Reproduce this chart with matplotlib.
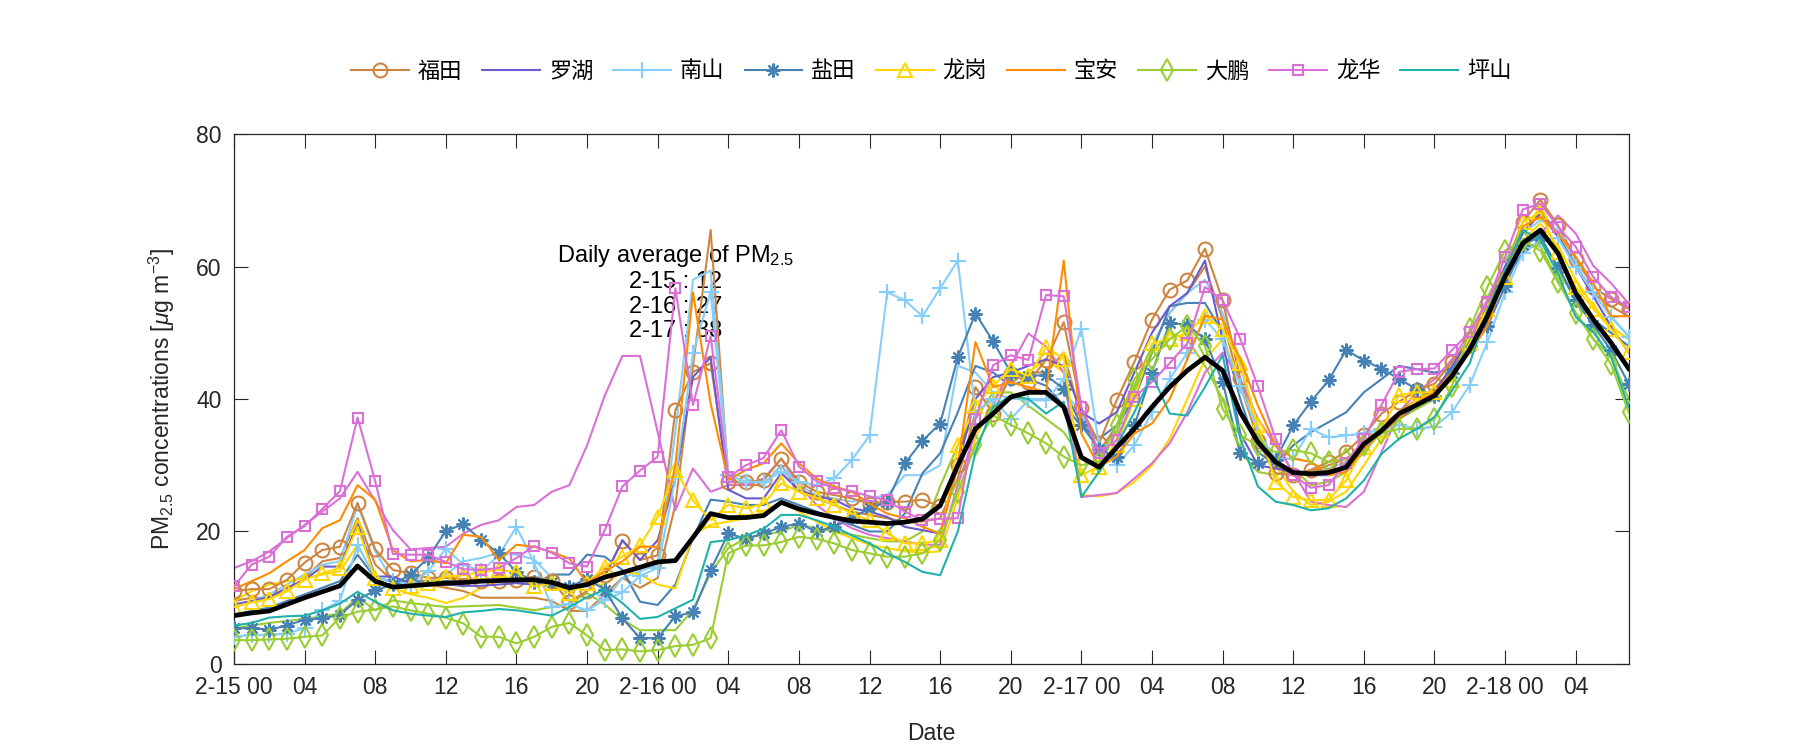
import numpy as np
import matplotlib
matplotlib.use("Agg")
import matplotlib.pyplot as plt

plt.rcParams['font.family'] = ['Liberation Sans', 'Noto Sans CJK SC', 'DejaVu Sans']
plt.rcParams['mathtext.fontset'] = 'custom'
plt.rcParams['mathtext.rm'] = 'Liberation Sans'
plt.rcParams['mathtext.it'] = 'Liberation Sans:italic'

hours = np.arange(80)   # 2-15 00 ... 2-18 07, hourly

# marked site of each district
futian = [11.0, 11.3, 11.3, 12.7, 15.3, 17.2, 17.7, 24.3, 17.3, 14.2, 13.7, 13.0, 13.0, 12.8, 12.5, 12.5, 12.7, 13.2, 12.5, 9.4, 11.0,
          13.4, 18.6, 15.7, 16.4, 38.3, 44.1, 45.4, 27.4, 27.5, 27.7, 31.0, 27.5, 26.0, 25.5, 25.0, 24.2, 24.5, 24.5, 24.8, 23.8,
          30.0, 41.8, 37.8, 43.7, 42.6, 45.9, 51.6, 38.6, 33.3, 39.8, 45.6, 52.0, 56.5, 57.9, 62.7, 54.9, 43.1, 33.6, 28.8, 28.5,
          29.3, 30.5, 32.0, 34.5, 37.8, 39.6, 41.3, 42.3, 45.6, 49.1, 54.3, 59.9, 66.7, 70.1, 66.2, 61.2, 56.9, 55.1, 53.6]
luohu = [9.0, 9.5, 10.1, 11.5, 12.7, 14.7, 14.7, 21.2, 13.2, 13.2, 12.2, 12.0, 12.0, 11.8, 11.8, 12.0, 12.2, 12.0, 11.8, 11.9, 11.7,
         13.2, 18.7, 15.7, 18.7, 28.0, 43.3, 46.3, 26.3, 25.0, 25.0, 28.8, 26.3, 25.3, 24.8, 23.5, 23.0, 22.2, 20.7, 20.2, 19.7,
         30.0, 40.0, 43.3, 44.0, 45.0, 46.0, 45.0, 38.0, 36.3, 38.0, 44.0, 50.0, 54.0, 56.0, 60.9, 48.9, 34.8, 30.0, 29.5, 29.0,
         28.5, 28.5, 29.5, 33.0, 35.0, 37.0, 39.0, 41.0, 45.0, 49.0, 53.0, 60.0, 65.0, 68.0, 64.5, 60.0, 55.5, 51.0, 47.0]
nanshan = [4.1, 4.4, 4.4, 4.6, 5.4, 8.1, 9.5, 18.0, 13.0, 12.5, 12.0, 14.0, 17.4, 15.0, 14.0, 16.4, 20.7, 15.3, 8.6, 9.0, 8.1,
           9.7, 10.8, 13.3, 14.5, 28.0, 46.9, 56.2, 28.5, 27.5, 27.5, 29.0, 27.5, 27.0, 28.0, 30.8, 34.5, 56.1, 54.9, 52.5, 56.7,
           60.9, 38.0, 40.0, 37.0, 39.8, 39.8, 43.0, 50.6, 33.0, 30.0, 33.0, 38.0, 43.0, 47.0, 52.0, 49.0, 42.0, 35.0, 31.0, 31.0,
           35.5, 34.2, 34.5, 34.8, 35.5, 36.1, 35.5, 35.8, 38.0, 42.1, 48.6, 56.1, 62.0, 64.0, 64.3, 59.9, 56.1, 52.4, 49.4]
yantian = [5.4, 5.4, 5.2, 5.8, 6.7, 6.9, 7.4, 9.7, 11.1, 12.0, 13.5, 16.0, 20.1, 21.1, 18.7, 16.7, 13.9, 12.4, 12.4, 11.6, 12.9,
           11.2, 6.9, 3.9, 3.9, 7.2, 7.8, 14.2, 19.7, 18.9, 19.7, 20.7, 21.2, 20.0, 20.7, 22.0, 23.5, 24.5, 30.3, 33.7, 36.3,
           46.3, 52.9, 48.7, 44.0, 43.5, 43.6, 41.5, 36.0, 32.5, 31.2, 36.0, 44.0, 51.5, 51.2, 49.0, 42.6, 31.8, 30.3, 30.8, 36.0,
           39.6, 42.8, 47.4, 45.8, 44.6, 43.0, 41.5, 40.5, 44.0, 48.0, 51.0, 57.0, 63.2, 64.6, 59.7, 54.9, 51.1, 47.4, 42.3]
longgang = [8.6, 9.3, 9.8, 11.0, 12.7, 13.7, 14.5, 20.7, 13.0, 11.4, 11.7, 12.2, 13.2, 13.4, 13.9, 14.2, 13.9, 11.7, 12.2, 10.7, 12.2,
            14.7, 16.2, 17.9, 22.2, 29.3, 24.7, 21.7, 24.0, 23.5, 24.2, 27.3, 26.0, 25.1, 24.0, 22.7, 21.7, 19.7, 18.2, 18.2, 18.7,
            33.0, 39.0, 42.0, 44.5, 43.5, 47.8, 46.1, 28.5, 29.8, 33.0, 40.0, 48.4, 49.1, 49.9, 52.6, 50.6, 45.4, 36.0, 27.5, 25.2,
            24.7, 24.8, 27.7, 32.8, 35.3, 40.6, 41.0, 41.0, 42.8, 48.4, 53.6, 58.4, 66.7, 68.2, 62.2, 56.9, 53.6, 50.6, 47.1]
baoan = [11.3, 12.5, 13.7, 15.5, 17.2, 20.5, 21.7, 27.0, 24.8, 17.2, 15.5, 15.7, 15.2, 19.5, 19.2, 15.7, 18.0, 17.7, 16.9, 15.9, 12.2,
         14.0, 15.5, 17.7, 17.7, 30.0, 56.1, 39.3, 27.8, 29.3, 30.3, 33.3, 30.3, 28.0, 26.8, 26.0, 24.2, 22.7, 22.0, 20.7, 19.7,
         30.0, 48.6, 41.8, 42.5, 41.8, 41.0, 60.9, 34.8, 29.8, 31.3, 34.8, 36.3, 40.0, 46.0, 52.6, 52.0, 46.0, 39.0, 33.0, 31.0,
         30.5, 28.5, 29.0, 32.5, 35.0, 37.0, 39.5, 41.0, 44.0, 47.0, 51.0, 59.0, 66.0, 67.5, 65.0, 61.5, 57.5, 52.5, 52.5]
dapeng = [3.6, 3.6, 3.7, 3.8, 4.1, 4.3, 7.0, 7.9, 8.2, 8.7, 8.1, 7.6, 7.0, 6.1, 4.1, 4.1, 3.1, 4.1, 5.6, 6.2, 4.3,
          2.1, 2.2, 1.9, 2.1, 2.7, 2.9, 3.9, 16.7, 17.9, 17.9, 18.4, 19.2, 18.9, 18.2, 17.2, 16.7, 16.2, 16.2, 16.7, 18.7,
          26.0, 33.0, 37.5, 36.1, 34.8, 33.3, 31.3, 30.0, 30.5, 36.0, 43.0, 46.0, 49.0, 51.0, 48.0, 38.5, 34.5, 33.0, 32.0, 32.3,
          31.8, 30.5, 31.0, 33.0, 34.8, 35.5, 35.5, 37.0, 42.0, 50.6, 56.9, 62.4, 64.0, 62.4, 57.6, 53.0, 49.1, 45.3, 38.0]
longhua = [11.7, 15.0, 16.2, 19.2, 20.8, 23.4, 26.1, 37.2, 27.6, 16.6, 16.5, 16.5, 15.4, 14.3, 14.2, 14.5, 16.0, 17.8, 16.8, 15.2, 14.7,
           20.2, 26.8, 29.2, 31.3, 56.7, 39.1, 49.5, 28.2, 30.0, 31.1, 35.3, 29.8, 27.6, 26.5, 26.1, 25.3, 24.7, 23.0, 21.7, 21.9,
           22.0, 37.0, 45.1, 46.6, 45.9, 55.7, 55.5, 38.8, 31.8, 33.8, 40.3, 42.6, 45.4, 48.4, 56.9, 54.9, 49.1, 41.9, 34.0, 28.5,
           26.6, 27.0, 30.4, 34.0, 39.1, 44.1, 44.5, 44.6, 47.4, 50.1, 54.7, 61.4, 68.6, 69.5, 66.0, 63.0, 58.4, 55.4, 53.9]
pingshan = [5.8, 6.2, 7.0, 7.2, 7.3, 8.1, 9.1, 10.9, 9.4, 8.1, 7.6, 7.3, 7.1, 7.8, 8.0, 8.3, 8.1, 7.7, 7.3, 8.6, 10.1,
            11.2, 9.2, 6.8, 7.1, 8.4, 9.7, 18.4, 18.7, 19.4, 20.4, 22.5, 22.5, 21.7, 20.7, 19.4, 18.2, 16.7, 15.4, 13.9, 13.4,
            20.0, 32.0, 38.8, 40.5, 40.0, 37.8, 39.6, 25.2, 29.0, 33.0, 38.0, 43.7, 37.8, 37.5, 41.8, 46.6, 34.0, 26.8, 24.5, 24.0,
            23.2, 23.5, 25.0, 27.7, 31.7, 34.0, 35.5, 37.3, 41.3, 45.4, 53.4, 59.4, 65.5, 64.0, 58.9, 52.4, 50.1, 46.4, 38.8]

# second sites (drawn without markers)
futian_2 = [9.5, 10.0, 10.0, 11.0, 13.0, 15.5, 16.0, 22.0, 15.0, 12.5, 12.0, 12.0, 11.5, 11.0, 10.0, 10.0, 10.0, 10.0, 9.5, 8.0, 8.0,
            10.5, 13.0, 11.5, 13.0, 24.0, 45.0, 65.5, 28.0, 27.0, 27.0, 30.0, 26.0, 25.0, 24.0, 23.0, 22.5, 22.0, 21.5, 21.5, 22.0,
            28.0, 38.0, 40.0, 43.0, 44.0, 44.0, 47.0, 37.0, 32.0, 36.0, 42.0, 48.0, 53.0, 56.0, 60.0, 52.0, 42.0, 34.0, 30.0, 29.0,
            29.0, 30.0, 31.0, 33.0, 36.0, 38.0, 40.0, 41.5, 44.5, 48.0, 53.0, 59.0, 65.0, 68.5, 65.0, 60.0, 56.0, 54.0, 52.5]
nanshan_2 = [8.5, 9.5, 10.5, 12.0, 13.5, 15.0, 15.5, 24.0, 17.0, 12.5, 12.3, 12.5, 13.5, 15.5, 16.0, 16.8, 16.5, 15.8, 13.0, 11.0, 12.0,
             9.5, 13.0, 14.0, 15.0, 35.0, 58.0, 59.4, 29.0, 28.0, 27.0, 30.0, 27.0, 25.5, 25.0, 24.5, 25.0, 25.5, 28.5, 28.5, 30.0,
             45.0, 44.0, 41.0, 40.0, 40.0, 40.0, 41.0, 38.0, 32.0, 35.0, 41.0, 48.0, 53.0, 56.0, 58.0, 53.0, 45.0, 35.0, 30.0, 28.5,
             28.7, 29.5, 30.5, 33.0, 35.5, 37.5, 39.0, 40.5, 44.0, 48.0, 53.0, 60.0, 65.0, 67.0, 65.5, 60.5, 56.0, 52.5, 49.5]
yantian_2 = [7.5, 8.0, 8.5, 9.5, 10.5, 11.5, 12.5, 16.5, 13.0, 12.5, 12.5, 12.5, 12.5, 12.8, 12.7, 12.5, 12.3, 12.0, 13.5, 13.5, 16.5,
             16.2, 14.2, 9.4, 8.9, 12.0, 19.0, 24.8, 24.5, 24.0, 24.0, 25.0, 24.0, 23.0, 22.0, 21.0, 20.0, 20.0, 22.7, 28.8, 31.8,
             38.0, 45.0, 44.0, 42.0, 43.0, 42.0, 39.0, 36.0, 34.0, 36.0, 40.0, 47.0, 54.0, 54.5, 54.5, 50.0, 40.0, 32.0, 30.0, 33.0,
             35.0, 36.5, 38.0, 41.0, 43.0, 45.0, 44.5, 44.0, 44.5, 48.0, 53.0, 58.0, 62.0, 64.0, 60.0, 55.0, 52.0, 50.0, 48.0]
longgang_2 = [9.5, 11.0, 12.0, 12.5, 13.0, 13.5, 14.0, 18.0, 13.0, 11.5, 10.5, 10.0, 9.2, 10.0, 11.5, 12.5, 13.0, 12.5, 11.5, 11.0, 12.0,
              12.0, 14.0, 13.5, 12.0, 11.4, 19.5, 21.0, 21.5, 22.0, 23.0, 24.5, 23.0, 21.5, 20.0, 19.0, 18.0, 17.5, 17.0, 16.8, 17.0,
              25.0, 34.0, 40.0, 43.5, 44.0, 46.0, 44.0, 25.5, 25.3, 25.8, 27.5, 30.0, 34.0, 40.0, 46.0, 49.0, 43.0, 36.0, 30.0, 26.0,
              24.0, 24.5, 26.0, 30.0, 34.0, 37.5, 40.0, 41.0, 44.0, 48.0, 52.0, 58.0, 64.0, 66.5, 63.0, 58.0, 54.0, 51.0, 49.0]
dapeng_2 = [5.4, 5.8, 6.2, 6.5, 6.8, 7.2, 7.6, 10.1, 8.1, 9.6, 9.2, 8.9, 8.6, 8.7, 8.8, 8.9, 8.5, 8.1, 8.6, 9.1, 10.7,
            9.0, 6.7, 5.1, 5.1, 5.1, 8.2, 13.7, 17.5, 19.0, 19.5, 20.0, 21.0, 20.5, 20.0, 19.5, 19.0, 18.5, 18.5, 20.0, 26.8,
            33.0, 37.0, 41.0, 41.0, 39.0, 37.0, 35.0, 31.0, 30.0, 35.0, 42.0, 47.0, 50.0, 49.0, 45.0, 40.0, 32.0, 29.0, 28.5, 29.5,
            27.0, 27.5, 29.0, 32.0, 35.0, 37.0, 38.5, 40.0, 44.0, 48.0, 53.0, 59.0, 63.5, 63.0, 58.0, 53.0, 49.0, 46.5, 40.0]
longhua_2 = [14.5, 15.5, 17.0, 19.0, 21.0, 23.0, 25.0, 29.0, 24.6, 20.2, 17.3, 17.5, 17.7, 19.7, 21.0, 21.7, 23.7, 24.0, 26.0, 27.0, 33.0,
             40.5, 46.5, 46.5, 35.0, 23.2, 29.5, 26.0, 27.0, 27.0, 28.0, 31.0, 27.0, 24.0, 22.0, 20.5, 19.5, 19.0, 18.5, 18.0, 18.0,
             27.0, 35.0, 39.0, 45.0, 49.9, 47.9, 44.0, 25.2, 25.5, 25.8, 28.0, 30.3, 33.3, 38.0, 44.0, 47.0, 43.0, 37.0, 33.0, 29.0,
             24.5, 24.0, 23.7, 26.0, 32.0, 38.0, 41.0, 43.0, 46.0, 50.0, 55.0, 60.0, 63.0, 65.0, 67.7, 65.0, 60.1, 57.5, 54.4]

# city average
average = [7.3, 7.7, 8.0, 9.0, 10.0, 10.9, 11.8, 14.8, 12.5, 11.6, 11.8, 12.0, 12.2, 12.3, 12.5, 12.6, 12.7, 12.7, 12.3, 11.5, 12.0,
           13.1, 13.8, 14.6, 15.4, 15.6, 19.1, 22.7, 22.1, 22.1, 22.4, 24.4, 23.4, 22.7, 22.1, 21.6, 21.4, 21.2, 21.4, 21.9, 23.9,
           30.0, 35.5, 37.8, 40.3, 41.0, 41.0, 38.8, 31.2, 29.7, 32.7, 35.5, 38.8, 41.8, 44.3, 46.3, 44.3, 38.0, 33.5, 30.5, 28.9,
           28.7, 28.9, 29.7, 33.2, 35.2, 37.8, 39.1, 40.5, 43.5, 47.5, 52.5, 58.5, 63.5, 65.5, 62.0, 56.0, 52.0, 48.5, 44.6]

names = ['福田', '罗湖', '南山', '盐田', '龙岗', '宝安', '大鹏', '龙华', '坪山']
daily_avg = ['2-15', '2-16', '2-17']
daily_val = [12, 27, 38]

tick_pos = np.arange(0, 80, 4)
tick_lab = ['2-15 00', '04', '08', '12', '16', '20',
            '2-16 00', '04', '08', '12', '16', '20',
            '2-17 00', '04', '08', '12', '16', '20',
            '2-18 00', '04']

asterisk = (8, 2, 0)   # MATLAB-like '*'

# (series, colour, marker, markersize)
main_sites = [
    (futian, '#CD853F', 'o', 10),
    (luohu, '#6A5ACD', None, 0),
    (nanshan, '#87CEFA', '+', 11),
    (yantian, '#4682B4', asterisk, 10),
    (longgang, '#FFD700', '^', 10),
    (baoan, '#FF8C00', None, 0),
    (dapeng, '#9ACD32', 'd', 11),
    (longhua, '#DA70D6', 's', 7),
    (pingshan, '#20B2AA', None, 0),
]
second_sites = [
    (futian_2, '#CD853F'), (nanshan_2, '#87CEFA'), (yantian_2, '#4682B4'),
    (longgang_2, '#FFD700'), (dapeng_2, '#9ACD32'), (longhua_2, '#DA70D6'),
]

fig = plt.figure(figsize=(18, 7.5), dpi=100)
ax = fig.add_axes([0.13, 0.1147, 0.7748, 0.7066])

for vals, col in second_sites:
    ax.plot(hours, vals, color=col, lw=1.5, zorder=2)

for (vals, col, mk, ms), name in zip(main_sites, names):
    ax.plot(hours, vals, color=col, lw=1.5, marker=mk, ms=ms, mfc='none',
            mew=1.5, label=name, zorder=3)

ax.plot(hours, average, color='black', lw=3.4, zorder=4)

txt = 'Daily average of PM$_{2.5}$\n' + '\n'.join(
    f'{d} : {v}' for d, v in zip(daily_avg, daily_val))
ax.text(25.0, 63.6, txt, ha='center', va='top', fontsize=17,
        linespacing=1.15, zorder=1)

ax.set_xlim(0, 79)
ax.set_ylim(0, 80)
ax.set_yticks([0, 20, 40, 60, 80])
ax.set_xticks(tick_pos)
ax.set_xticklabels(tick_lab)
ax.tick_params(direction='in', length=10, width=0.8, top=True, right=True,
               labelsize=16.5, colors='#262626', pad=9)
for s in ax.spines.values():
    s.set_color('#262626')
    s.set_linewidth(0.9)

ax.set_xlabel('Date', fontsize=16.5, color='#262626', labelpad=16)
ax.set_ylabel(r'PM$_{2.5}$ concentrations [$\mu$g m$^{-3}$]', fontsize=16.5,
              color='#262626', labelpad=14)

leg = ax.legend(loc='center', bbox_to_anchor=(0.5, 1.119), ncol=9,
                frameon=False, handlelength=2.6, columnspacing=0.9,
                handletextpad=0.4,
                prop={'family': ['Noto Sans CJK SC', 'DejaVu Sans'], 'size': 16})

fig.savefig('out.png', dpi=100)
